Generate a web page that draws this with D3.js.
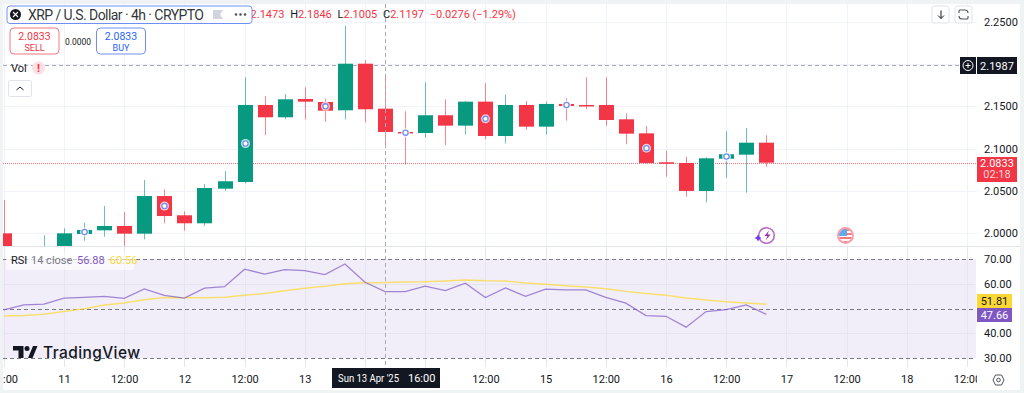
<!DOCTYPE html>
<html>
<head>
<meta charset="utf-8">
<script src="https://cdn.jsdelivr.net/npm/d3@7"></script>
<style>
html, body { margin: 0; padding: 0; background: #f0f3f4; }
svg { display: block; font-family: Roboto, "Liberation Sans", sans-serif; }
</style>
</head>
<body>
<svg id="chart" width="1024" height="393"></svg>
<script>
// candles, 4h apart, first one is 10 Apr 12:00
var opens = [1.9996, 1.9750, 1.9660, 1.9820, 1.9988, 2.0032, 2.0083, 1.9992, 2.0438, 2.0210, 2.0115, 2.0525, 2.0604, 2.1517, 2.1371, 2.1588, 2.1552, 2.1454, 2.2006, 2.1473, 2.1197, 2.1185, 2.1395, 2.1272, 2.1556, 2.1149, 2.1517, 2.1260, 2.1529, 2.1517, 2.1517, 2.1347, 2.1181, 2.0838, 2.0830, 2.0498, 2.0880, 2.0928, 2.1070];
var highs = [2.0391, 1.9800, 1.9973, 2.0056, 2.0122, 2.0320, 2.0249, 2.0628, 2.0518, 2.0257, 2.0581, 2.0735, 2.1845, 2.1623, 2.1647, 2.1727, 2.1591, 2.2453, 2.2050, 2.1846, 2.1442, 2.1786, 2.1584, 2.1564, 2.1774, 2.1639, 2.1564, 2.1556, 2.1596, 2.1845, 2.1845, 2.1418, 2.1268, 2.0975, 2.0904, 2.0897, 2.1205, 2.1241, 2.1158];
var lows = [1.9656, 1.9600, 1.9580, 1.9750, 1.9909, 1.9956, 1.9846, 1.9925, 2.0115, 2.0027, 2.0083, 2.0501, 2.0589, 2.1158, 2.1347, 2.1347, 2.1319, 2.1347, 2.1312, 2.1005, 2.0809, 2.1129, 2.1043, 2.1165, 2.1110, 2.1063, 2.1224, 2.1165, 2.1331, 2.1466, 2.1272, 2.1051, 2.0824, 2.0667, 2.0430, 2.0364, 2.0652, 2.0478, 2.0786];
var closes = [1.9750, 1.9660, 1.9820, 1.9996, 2.0036, 2.0083, 1.9992, 2.0438, 2.0201, 2.0115, 2.0533, 2.0613, 2.1517, 2.1371, 2.1584, 2.1556, 2.1449, 2.2006, 2.1466, 2.1197, 2.1181, 2.1395, 2.1272, 2.1556, 2.1149, 2.1517, 2.1260, 2.1529, 2.1505, 2.1508, 2.1339, 2.1177, 2.0830, 2.0821, 2.0498, 2.0885, 2.0933, 2.1070, 2.0833];
var rsi_values = [49.5, 51.5, 51.8, 54.3, 54.6, 55.0, 54.2, 58.0, 55.4, 54.3, 58.3, 58.9, 66.0, 64.0, 65.8, 65.4, 63.8, 68.1, 60.7, 56.88, 56.9, 59.1, 57.3, 60.3, 54.5, 58.4, 55.0, 57.9, 57.6, 57.6, 54.6, 52.2, 47.2, 46.9, 42.5, 48.8, 49.6, 51.5, 47.66];
var rsi_ma_values = [47.0, 47.2, 47.7, 48.8, 50.0, 51.5, 52.3, 53.6, 54.5, 54.4, 54.4, 54.6, 55.4, 56.1, 57.3, 58.3, 59.1, 60.1, 60.5, 60.56, 60.8, 60.9, 61.2, 61.6, 61.3, 61.2, 60.4, 59.9, 59.3, 58.8, 58.1, 57.0, 56.1, 55.4, 54.3, 53.5, 52.8, 52.3, 51.81];
// candles that carry a news marker
var marker_candles = [4, 8, 12, 16, 20, 24, 28, 32, 36];

var price_grid = [2.0, 2.05, 2.10, 2.15, 2.20, 2.25];
// 2.2000 sits under the black 2.1987 label, so it gets no text
var price_ticks = [2.0, 2.05, 2.10, 2.15, 2.25];
var rsi_ticks = [30, 40, 60, 70];
var rsi_dashed = [30, 50, 70];
var time_ticks = ['2025-04-10T12:00Z', '2025-04-11T00:00Z', '2025-04-11T12:00Z', '2025-04-12T00:00Z', '2025-04-12T12:00Z', '2025-04-13T00:00Z', '2025-04-13T12:00Z', '2025-04-14T00:00Z', '2025-04-14T12:00Z', '2025-04-15T00:00Z', '2025-04-15T12:00Z', '2025-04-16T00:00Z', '2025-04-16T12:00Z', '2025-04-17T00:00Z', '2025-04-17T12:00Z', '2025-04-18T00:00Z', '2025-04-18T12:00Z'];
// the two blanks are covered by the crosshair date box
var time_labels = ['12:00', '11', '12:00', '12', '12:00', '13', '', '', '12:00', '15', '12:00', '16', '12:00', '17', '12:00', '18', '12:00'];

var last_price = 2.0833;
var high_line = 2.1987;
var crosshair_time = new Date('2025-04-13T16:00Z');
var first_candle = Date.parse('2025-04-10T12:00Z');
var four_hours = 4 * 3600 * 1000;

var green = '#089981', red = '#f23645', purple = '#7e57c2', yellow = '#fdd835', ink = '#131722';

var left = 3, right = 977, plot_top = 4, price_bottom = 246, rsi_top = 247, rsi_bottom = 367;

var svg = d3.select('#chart');

var x = d3.scaleUtc()
    .domain([new Date('2025-04-11T00:00Z'), new Date('2025-04-18T12:00Z')])
    .range([64, 967]);
var y = d3.scaleLinear().domain([2.0, 2.25]).range([233, 22]);
var yRsi = d3.scaleLinear().domain([30, 70]).range([358, 259.3]);

function candle_time(i) {
    return new Date(first_candle + i * four_hours);
}

function px(v) {
    return Math.round(v) + 0.5;
}

function fundo() {
    svg.append('rect').attr('x', left).attr('y', plot_top).attr('width', 1020 - left).attr('height', 386)
        .attr('fill', '#fff');
    var defs = svg.append('defs');
    defs.append('clipPath').attr('id', 'clip-price').append('rect')
        .attr('x', left).attr('y', plot_top).attr('width', right - left).attr('height', price_bottom - plot_top);
    defs.append('clipPath').attr('id', 'clip-rsi').append('rect')
        .attr('x', left).attr('y', rsi_top).attr('width', right - left).attr('height', rsi_bottom - rsi_top);
    defs.append('clipPath').attr('id', 'clip-time').append('rect')
        .attr('x', left).attr('y', rsi_bottom).attr('width', right - left).attr('height', 24);
    defs.append('clipPath').attr('id', 'clip-flag').append('circle')
        .attr('cx', 845.5).attr('cy', 235.5).attr('r', 6.5);
}

function grade() {
    var g = svg.append('g').attr('class', 'grid');
    var dates = time_ticks.map(function (d) { return new Date(d); });
    g.selectAll('.v').data(dates).enter().append('line')
        .attr('x1', function (d) { return px(x(d)); })
        .attr('x2', function (d) { return px(x(d)); })
        .attr('y1', plot_top).attr('y2', rsi_bottom)
        .attr('stroke', '#f0f3fa');
    g.selectAll('.h').data(price_grid).enter().append('line')
        .attr('x1', left).attr('x2', right)
        .attr('y1', function (d) { return px(y(d)); })
        .attr('y2', function (d) { return px(y(d)); })
        .attr('stroke', '#f0f3fa');
    // separator between panes
    g.append('line').attr('x1', left).attr('x2', 1020).attr('y1', 246.5).attr('y2', 246.5).attr('stroke', '#e0e3eb');
}

function painel_rsi() {
    var g = svg.append('g').attr('clip-path', 'url(#clip-rsi)');
    g.append('rect').attr('x', left).attr('width', right - left - 1)
        .attr('y', yRsi(70)).attr('height', yRsi(30) - yRsi(70))
        .attr('fill', purple).attr('fill-opacity', 0.1);
    g.selectAll('.v').data(time_ticks).enter().append('line')
        .attr('x1', function (d) { return px(x(new Date(d))); })
        .attr('x2', function (d) { return px(x(new Date(d))); })
        .attr('y1', rsi_top).attr('y2', rsi_bottom)
        .attr('stroke', '#e6e4ef');
    g.selectAll('.h').data([40, 60]).enter().append('line')
        .attr('x1', left).attr('x2', right - 2)
        .attr('y1', function (d) { return px(yRsi(d)); })
        .attr('y2', function (d) { return px(yRsi(d)); })
        .attr('stroke', '#e6e4ef');
    g.selectAll('.dash').data(rsi_dashed).enter().append('line')
        .attr('x1', left).attr('x2', right - 2)
        .attr('y1', function (d) { return px(yRsi(d)); })
        .attr('y2', function (d) { return px(yRsi(d)); })
        .attr('stroke', '#787b86').attr('stroke-dasharray', '4,3');

    var line = d3.line()
        .x(function (d, i) { return x(candle_time(i)); })
        .y(function (d) { return yRsi(d); });
    g.append('path').datum(rsi_ma_values).attr('d', line)
        .attr('fill', 'none').attr('stroke', yellow).attr('stroke-opacity', 0.7).attr('stroke-width', 1.5);
    g.append('path').datum(rsi_values).attr('d', line)
        .attr('fill', 'none').attr('stroke', purple).attr('stroke-opacity', 0.7).attr('stroke-width', 1.3);
}

function linhas_preco() {
    svg.append('line').attr('x1', left).attr('x2', 960).attr('y1', px(y(high_line))).attr('y2', px(y(high_line)))
        .attr('stroke', '#a8abb3').attr('stroke-dasharray', '4,3');
    svg.append('line').attr('x1', left).attr('x2', right).attr('y1', px(y(last_price))).attr('y2', px(y(last_price)))
        .attr('stroke', red).attr('stroke-dasharray', '1,1').attr('stroke-opacity', 0.7);
}

function candles() {
    var g = svg.append('g').attr('clip-path', 'url(#clip-price)');
    var bars = g.selectAll('.candle').data(opens).enter().append('g').attr('class', 'candle');

    function cor(d, i) {
        return closes[i] >= d ? green : red;
    }

    bars.append('line')
        .attr('x1', function (d, i) { return px(x(candle_time(i))); })
        .attr('x2', function (d, i) { return px(x(candle_time(i))); })
        .attr('y1', function (d, i) { return y(highs[i]); })
        .attr('y2', function (d, i) { return y(lows[i]); })
        .attr('stroke', cor).attr('stroke-opacity', 0.6);

    bars.append('rect')
        .attr('x', function (d, i) { return Math.round(x(candle_time(i))) - 7; })
        .attr('width', 15)
        .attr('y', function (d, i) { return Math.min(y(d), y(closes[i])); })
        .attr('height', function (d, i) { return Math.max(1.5, Math.abs(y(d) - y(closes[i]))); })
        .attr('fill', cor);

    // news markers sit in the middle of the body
    var m = g.selectAll('.marker').data(marker_candles).enter().append('g').attr('class', 'marker');
    m.append('circle')
        .attr('cx', function (i) { return px(x(candle_time(i))); })
        .attr('cy', function (i) { return y((opens[i] + closes[i]) / 2); })
        .attr('r', 4.5)
        .attr('fill', '#fff').attr('fill-opacity', 0.75);
    m.append('circle')
        .attr('cx', function (i) { return px(x(candle_time(i))); })
        .attr('cy', function (i) { return y((opens[i] + closes[i]) / 2); })
        .attr('r', 2.6)
        .attr('fill', '#fff')
        .attr('stroke', '#6f8ff5')
        .attr('stroke-width', 1.3);
}

function eixos() {
    var price_axis = d3.axisRight(y)
        .tickValues(price_ticks)
        .tickSize(0)
        .tickPadding(0)
        .tickFormat(d3.format('.4f'));
    var gp = svg.append('g').attr('transform', 'translate(984,0)').call(price_axis);
    gp.select('.domain').remove();
    gp.selectAll('text').attr('font-size', 11).attr('fill', ink).attr('font-family', 'Roboto');

    var rsi_axis = d3.axisRight(yRsi)
        .tickValues(rsi_ticks)
        .tickSize(0)
        .tickPadding(0)
        .tickFormat(d3.format('.2f'));
    var gr = svg.append('g').attr('transform', 'translate(984,0)').call(rsi_axis);
    gr.select('.domain').remove();
    gr.selectAll('text').attr('font-size', 11).attr('fill', ink).attr('font-family', 'Roboto');

    var dates = time_ticks.map(function (d) { return new Date(d); });
    var time_axis = d3.axisBottom(x)
        .tickValues(dates)
        .tickSize(0)
        .tickPadding(0)
        .tickFormat(function (d, i) { return time_labels[i]; });
    var gt = svg.append('g').attr('clip-path', 'url(#clip-time)')
        .append('g').attr('transform', 'translate(0,375)').call(time_axis);
    gt.select('.domain').remove();
    gt.selectAll('text').attr('font-size', 11).attr('fill', ink).attr('font-family', 'Roboto');
}

function crosshair() {
    var cx = px(x(crosshair_time));
    svg.append('line').attr('x1', cx).attr('x2', cx).attr('y1', plot_top).attr('y2', rsi_bottom)
        .attr('stroke', '#a8abb3').attr('stroke-dasharray', '4,3');
    svg.append('rect').attr('x', 332).attr('y', 368).attr('width', 108).attr('height', 20).attr('fill', ink);
    svg.append('text').attr('x', 338).attr('y', 382).attr('font-size', 11).attr('fill', '#fff')
        .attr('textLength', 61).attr('lengthAdjust', 'spacingAndGlyphs').text("Sun 13 Apr '25");
    svg.append('text').attr('x', 408).attr('y', 382).attr('font-size', 11).attr('fill', '#fff').text('16:00');
}

function etiqueta(xx, yy, w, h, fundo_cor, cor, txt, size) {
    svg.append('rect').attr('x', xx).attr('y', yy).attr('width', w).attr('height', h).attr('fill', fundo_cor);
    if (txt) {
        svg.append('text').attr('x', xx + w / 2).attr('y', yy + h / 2 + 4).attr('text-anchor', 'middle')
            .attr('font-size', size || 11).attr('fill', cor).text(txt);
    }
}

function etiquetas_eixo() {
    // high line label with plus button
    etiqueta(960, 57, 16, 17, ink, '#fff');
    svg.append('circle').attr('cx', 968).attr('cy', 65.5).attr('r', 5).attr('fill', 'none').attr('stroke', '#fff');
    svg.append('path').attr('d', 'M965.5 65.5h5M968 63v5').attr('stroke', '#fff');
    etiqueta(977, 57, 40, 17, ink, '#fff', d3.format('.4f')(high_line));

    // last price
    svg.append('rect').attr('x', 977).attr('y', 157).attr('width', 40).attr('height', 25).attr('fill', red);
    svg.append('text').attr('x', 997).attr('y', 167).attr('text-anchor', 'middle').attr('font-size', 11)
        .attr('fill', '#fff').text(d3.format('.4f')(last_price));
    svg.append('text').attr('x', 997).attr('y', 178).attr('text-anchor', 'middle').attr('font-size', 11)
        .attr('fill', '#fff').attr('fill-opacity', 0.8).text('02:18');

    etiqueta(977, 294, 35, 14, yellow, ink, d3.format('.2f')(rsi_ma_values[rsi_ma_values.length - 1]));
    etiqueta(977, 308, 35, 14, purple, '#fff', d3.format('.2f')(rsi_values[rsi_values.length - 1]));
}

function cabecalho() {
    // OHLC runs under the title box
    var ohlc = svg.append('text').attr('x', 243).attr('y', 18).attr('font-size', 11).attr('fill', red);
    ohlc.append('tspan').attr('fill', ink).text('O');
    ohlc.append('tspan').text('2.1473 ');
    ohlc.append('tspan').attr('fill', ink).attr('dx', 3).text('H');
    ohlc.append('tspan').text('2.1846 ');
    ohlc.append('tspan').attr('fill', ink).attr('dx', 3).text('L');
    ohlc.append('tspan').text('2.1005 ');
    ohlc.append('tspan').attr('fill', ink).attr('dx', 3).text('C');
    ohlc.append('tspan').text('2.1197 ');
    ohlc.append('tspan').attr('dx', 3).text('\u22120.0276 (\u22121.29%)');

    svg.append('rect').attr('x', 7).attr('y', 6).attr('width', 245).attr('height', 17.5).attr('rx', 3)
        .attr('fill', '#fff').attr('stroke', '#6f8ff5');
    svg.append('circle').attr('cx', 15.5).attr('cy', 14.5).attr('r', 5.5).attr('fill', ink);
    svg.append('path').attr('d', 'M13 12l5 5M18 12l-5 5').attr('stroke', '#fff').attr('stroke-width', 1.1);
    svg.append('text').attr('x', 28).attr('y', 19.5).attr('font-size', 14).attr('fill', ink).attr('fill-opacity', 0.9)
        .attr('textLength', 176).text('XRP / U.S. Dollar \u00b7 4h \u00b7 CRYPTO');
    svg.append('path').attr('d', 'M213 10h10l-3 4.5l3 4.5h-10z').attr('fill', '#d1d4dc');
    svg.selectAll('.dot').data([236, 240.5, 245]).enter().append('circle')
        .attr('cx', function (d) { return d; }).attr('cy', 14.5).attr('r', 1.3).attr('fill', '#50535e');

    // sell / buy
    svg.append('rect').attr('x', 10).attr('y', 28).attr('width', 49).attr('height', 26).attr('rx', 4)
        .attr('fill', '#fff').attr('stroke', '#f7767f');
    svg.append('text').attr('x', 34.5).attr('y', 40).attr('text-anchor', 'middle').attr('font-size', 10.5).attr('fill', red).text('2.0833');
    svg.append('text').attr('x', 34.5).attr('y', 51).attr('text-anchor', 'middle').attr('font-size', 9).attr('fill', red).text('SELL');
    svg.append('text').attr('x', 78).attr('y', 45).attr('text-anchor', 'middle').attr('font-size', 8.5).attr('fill', ink).text('0.0000');
    svg.append('rect').attr('x', 96.5).attr('y', 28).attr('width', 49).attr('height', 26).attr('rx', 4)
        .attr('fill', '#fff').attr('stroke', '#6f8ff5');
    svg.append('text').attr('x', 121).attr('y', 40).attr('text-anchor', 'middle').attr('font-size', 10.5).attr('fill', '#2962ff').text('2.0833');
    svg.append('text').attr('x', 121).attr('y', 51).attr('text-anchor', 'middle').attr('font-size', 9).attr('fill', '#2962ff').text('BUY');

    // volume legend
    svg.append('text').attr('x', 11).attr('y', 72).attr('font-size', 11).attr('fill', ink).text('Vol');
    svg.append('circle').attr('cx', 38.5).attr('cy', 68).attr('r', 6.5).attr('fill', '#fbdfe2');
    svg.append('text').attr('x', 38.5).attr('y', 72).attr('text-anchor', 'middle').attr('font-size', 11)
        .attr('font-weight', 700).attr('fill', red).text('!');
    svg.append('rect').attr('x', 8.5).attr('y', 80.5).attr('width', 23).attr('height', 16).attr('rx', 2)
        .attr('fill', '#fff').attr('stroke', '#e0e3eb');
    svg.append('path').attr('d', 'M16.5 90l3.5-3l3.5 3').attr('fill', 'none').attr('stroke', ink);

    // top right buttons
    svg.append('rect').attr('x', 932).attr('y', 6).attr('width', 17).attr('height', 17).attr('rx', 2)
        .attr('fill', '#fff').attr('stroke', '#e0e3eb');
    svg.append('path').attr('d', 'M941 10.5v8M938 15.5l3 3l3-3').attr('fill', 'none').attr('stroke', ink);
    svg.append('rect').attr('x', 955).attr('y', 6).attr('width', 17).attr('height', 17).attr('rx', 2)
        .attr('fill', '#fff').attr('stroke', '#e0e3eb');
    svg.append('path').attr('d', 'M959 13v-2q0-1 1-1h5q3 0 3 3M959 16q0 3 3 3h5q1 0 1-1v-2').attr('fill', 'none').attr('stroke', '#50535e').attr('stroke-width', 1.1);

    // rsi legend
    svg.append('rect').attr('x', 6).attr('y', 252).attr('width', 128).attr('height', 18).attr('rx', 2)
        .attr('fill', '#fff').attr('fill-opacity', 0.6);
    var t = svg.append('text').attr('x', 11).attr('y', 264).attr('font-size', 11);
    t.append('tspan').attr('fill', ink).text('RSI ');
    t.append('tspan').attr('fill', '#787b86').attr('dx', 1).text('14 close ');
    t.append('tspan').attr('fill', purple).attr('dx', 2).text(d3.format('.2f')(rsi_values[19]));
    t.append('tspan').attr('fill', yellow).attr('dx', 5).text(d3.format('.2f')(rsi_ma_values[19]));
}

function logo() {
    svg.append('path').attr('d', 'M13 346h10.5v12h-5v-7.5H13z M28 358l5-12h4.5l-5 12z').attr('fill', ink);
    svg.append('circle').attr('cx', 27).attr('cy', 348.5).attr('r', 2.5).attr('fill', ink);
    svg.append('text').attr('x', 43).attr('y', 358).attr('font-family', 'Inter').attr('font-size', 15.5)
        .attr('font-weight', 500).attr('fill', ink).attr('textLength', 97).text('TradingView');
}

function icones() {
    // earnings bolt
    svg.append('circle').attr('cx', 766.5).attr('cy', 235.5).attr('r', 7.8).attr('fill', '#fff').attr('stroke', '#ba68c8').attr('stroke-width', 1.6);
    svg.append('path').attr('d', 'M769 230.5l-4.5 5.5h3l-2 4.5l5-6h-3z').attr('fill', '#9c27b0');
    svg.append('path').attr('d', 'M758 234.5l1.2 2.3l2.3 1.2l-2.3 1.2l-1.2 2.3l-1.2-2.3l-2.3-1.2l2.3-1.2z').attr('fill', '#6a3df0');
    // us flag
    svg.append('circle').attr('cx', 845.5).attr('cy', 235.5).attr('r', 8.5).attr('fill', '#f9a0a8');
    svg.append('circle').attr('cx', 845.5).attr('cy', 235.5).attr('r', 6.5).attr('fill', '#fff');
    var f = svg.append('g').attr('clip-path', 'url(#clip-flag)');
    f.selectAll('.stripe').data([229, 233, 237, 241]).enter().append('rect')
        .attr('x', 839).attr('y', function (d) { return d; }).attr('width', 13).attr('height', 2).attr('fill', '#f7767f');
    f.append('rect').attr('x', 839).attr('y', 229).attr('width', 8).attr('height', 7).attr('fill', '#64a8ee');
    // settings
    svg.append('path').attr('d', 'M993 380l2.5-5h6l2.5 5l-2.5 5h-6z').attr('fill', 'none').attr('stroke', '#50535e');
    svg.append('circle').attr('cx', 998.5).attr('cy', 380).attr('r', 1.8).attr('fill', 'none').attr('stroke', '#50535e');
}

fundo()
grade()
painel_rsi()
linhas_preco()
candles()
eixos()
crosshair()
etiquetas_eixo()
cabecalho()
logo()
icones()
</script>
</body>
</html>
